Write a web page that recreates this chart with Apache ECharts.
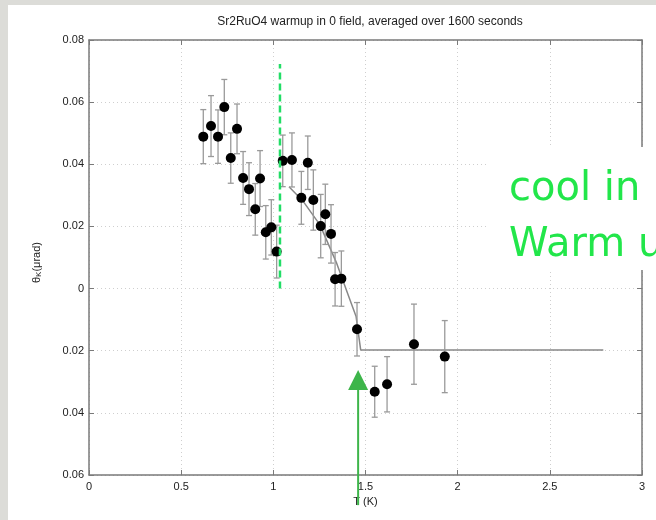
<!DOCTYPE html>
<html>
<head>
<meta charset="utf-8">
<script src="https://cdn.jsdelivr.net/npm/echarts@6/dist/echarts.min.js"></script>
<style>
  html, body { margin: 0; padding: 0; background: #fff; }
  #chart { width: 656px; height: 520px; }
</style>
</head>
<body>
<div id="chart"></div>
<script>
// Temperature (K) of each averaged point
const temps = [0.620, 0.662, 0.700, 0.734, 0.769, 0.803, 0.836, 0.868, 0.902, 0.928,
               0.959, 0.989, 1.018, 1.051, 1.101, 1.152, 1.187, 1.217, 1.257, 1.282,
               1.313, 1.335, 1.369, 1.454, 1.550, 1.617, 1.763, 1.930];
// Kerr angle (µrad)
const kerr = [0.0489, 0.0523, 0.0489, 0.0584, 0.0420, 0.0514, 0.0356, 0.0320, 0.0255, 0.0354,
              0.0181, 0.0197, 0.0119, 0.0411, 0.0414, 0.0292, 0.0405, 0.0285, 0.0201, 0.0239,
              0.0176, 0.0030, 0.0032, -0.0131, -0.0332, -0.0308, -0.0179, -0.0219];
// One-sigma error of each point
const kerrErr = [0.0087, 0.0098, 0.0086, 0.0089, 0.0081, 0.0080, 0.0085, 0.0085, 0.0083, 0.0090,
                 0.0086, 0.0089, 0.0085, 0.0083, 0.0087, 0.0085, 0.0086, 0.0097, 0.0102, 0.0097,
                 0.0094, 0.0086, 0.0089, 0.0086, 0.0082, 0.0089, 0.0129, 0.0116];

// Fitted onset curve
const fitT = [1.085, 1.163, 1.253, 1.344, 1.416, 1.449, 1.474, 2.79];
const fitK = [0.0328, 0.0280, 0.0205, 0.0081, -0.0037, -0.0090, -0.0198, -0.0198];

// Dashed marker of the cool-down break
const breakT = [1.036, 1.036];
const breakK = [0.0, 0.0723];

// Arrow at Tc (tail below the axis, tip above)
const arrowT = 1.46;
const arrowK = [-0.0697, -0.0262];

// Tick labels
const xTickLabels = ['0', '0.5', '1', '1.5', '2', '2.5', '3'];
const yTickLabels = ['0.06', '0.04', '0.02', '0', '0.02', '0.04', '0.06', '0.08'];

const title = 'Sr2RuO4 warmup in 0 field, averaged over 1600 seconds';
const noteLines = ['cool in', 'Warm up'];

const points = temps.map((t, i) => [t, kerr[i]]);
const errBars = temps.map((t, i) => [t, kerr[i] - kerrErr[i], kerr[i] + kerrErr[i]]);
const fitLine = fitT.map((t, i) => [t, fitK[i]]);
const breakLine = breakT.map((t, i) => [t, breakK[i]]);

const FONT = '"Liberation Sans", Arial, sans-serif';
const axisCol = '#7a7a7a';
const labelStyle = { color: '#222', fontSize: 11, fontFamily: FONT };
const boxAxis = {
  onZero: false,
  lineStyle: { color: axisCol, width: 1.5 }
};
const inTick = { inside: true, length: 5, lineStyle: { color: axisCol } };
const dotted = { show: true, lineStyle: { color: '#cfcfcf', type: [1, 3] } };

const chart = echarts.init(document.getElementById('chart'), null, { renderer: 'canvas' });

const option = {
  backgroundColor: '#ffffff',
  animation: false,
  title: {
    text: title,
    left: 365, top: 11, textAlign: 'center',
    textStyle: { fontSize: 12, fontWeight: 'normal', color: '#222', fontFamily: FONT }
  },
  grid: { left: 89, right: 14, top: 40, bottom: 45 },
  xAxis: [{
    type: 'value', min: 0, max: 3, interval: 0.5,
    name: 'T (K)', nameLocation: 'middle', nameGap: 18,
    nameTextStyle: labelStyle,
    axisLine: boxAxis, axisTick: inTick,
    axisLabel: Object.assign({ margin: 6, formatter: (v, i) => xTickLabels[i] }, labelStyle),
    splitLine: dotted
  }, {
    type: 'value', min: 0, max: 3, interval: 0.5, position: 'top',
    axisLine: boxAxis, axisTick: inTick,
    axisLabel: { show: false }, splitLine: { show: false }
  }],
  yAxis: [{
    type: 'value', min: -0.06, max: 0.08, interval: 0.02,
    name: '{t|θ}{s|K}{t|(μrad)}', nameLocation: 'middle', nameGap: 46,
    nameRotate: 90,
    nameTextStyle: {
      padding: [0, 10, 0, 0],
      rich: {
        t: { fontSize: 11, color: '#222', fontFamily: FONT },
        s: { fontSize: 8, color: '#222', fontFamily: FONT, verticalAlign: 'bottom', padding: [5, 0, 0, 0] }
      }
    },
    axisLine: boxAxis, axisTick: inTick,
    axisLabel: Object.assign({ margin: 5, formatter: (v, i) => yTickLabels[i] }, labelStyle),
    splitLine: dotted
  }, {
    type: 'value', min: -0.06, max: 0.08, interval: 0.02, position: 'right',
    axisLine: boxAxis, axisTick: inTick,
    axisLabel: { show: false }, splitLine: { show: false }
  }],
  series: [
    {
      // fitted curve
      type: 'line', data: fitLine, showSymbol: false, symbol: 'none',
      lineStyle: { color: '#888', width: 1.5 }, z: 3
    },
    {
      // error bars with caps
      type: 'custom', data: errBars, z: 4,
      renderItem: function (params, api) {
        const x = api.value(0);
        const lo = api.coord([x, api.value(1)]);
        const hi = api.coord([x, api.value(2)]);
        const c = 3;
        const style = { stroke: '#9a9a9a', lineWidth: 1.3 };
        return {
          type: 'group',
          children: [
            { type: 'line', shape: { x1: lo[0], y1: lo[1], x2: hi[0], y2: hi[1] }, style },
            { type: 'line', shape: { x1: lo[0] - c, y1: lo[1], x2: lo[0] + c, y2: lo[1] }, style },
            { type: 'line', shape: { x1: hi[0] - c, y1: hi[1], x2: hi[0] + c, y2: hi[1] }, style }
          ]
        };
      }
    },
    {
      type: 'scatter', data: points, symbol: 'circle', symbolSize: 10,
      itemStyle: { color: '#000', opacity: 1 }, z: 5
    },
    {
      // dashed break marker
      type: 'line', data: breakLine, showSymbol: false, symbol: 'none',
      lineStyle: { color: '#22dd66', width: 2.5, type: [7, 4] }, z: 6
    }
  ]
};
chart.setOption(option);

// Arrow at Tc and the boxed note, positioned through the axes
const tail = chart.convertToPixel({ xAxisIndex: 0, yAxisIndex: 0 }, [arrowT, arrowK[0]]);
const tip = chart.convertToPixel({ xAxisIndex: 0, yAxisIndex: 0 }, [arrowT, arrowK[1]]);
const headH = 20, headW = 10;
const green = '#3db54a';
const noteFont = '40px "DejaVu Sans", sans-serif';
chart.setOption({
  graphic: [
    { type: 'rect', shape: { x: 0, y: 0, width: 8, height: 520 }, style: { fill: '#dcdcd8' }, silent: true },
    { type: 'rect', shape: { x: 0, y: 0, width: 656, height: 5 }, style: { fill: '#dcdcd8' }, silent: true },
    {
      type: 'line', z: 50,
      shape: { x1: tail[0], y1: tail[1], x2: tip[0], y2: tip[1] + headH - 1 },
      style: { stroke: green, lineWidth: 2 }
    },
    {
      type: 'polygon', z: 50,
      shape: { points: [[tip[0], tip[1]], [tip[0] - headW, tip[1] + headH], [tip[0] + headW, tip[1] + headH]] },
      style: { fill: green }
    },
    { type: 'rect', z: 60, shape: { x: 487, y: 147, width: 169, height: 123 }, style: { fill: '#fff' } },
    {
      type: 'text', z: 61, left: 509, top: 170,
      style: { text: noteLines[0], fill: '#22e64a', font: noteFont }
    },
    {
      type: 'text', z: 61, left: 509, top: 226,
      style: { text: noteLines[1], fill: '#22e64a', font: noteFont }
    }
  ]
});
</script>
</body>
</html>
